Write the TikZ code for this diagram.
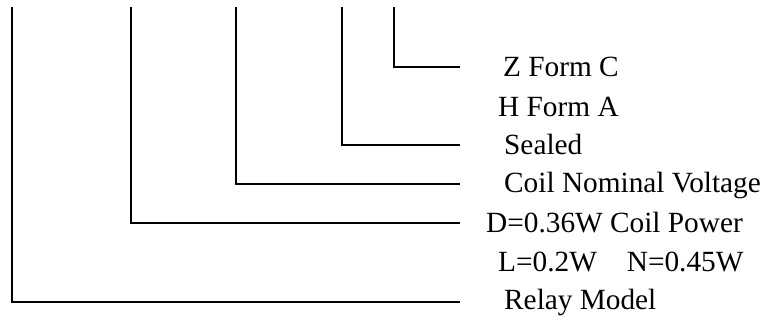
\documentclass[tikz,border=0pt]{standalone}
\usepackage{fontspec}
\setmainfont{Liberation Serif}
\tikzset{
    code/.style={anchor=base west,inner sep=0pt,font=\fontsize{29.3}{34}\selectfont},
    lead/.style={line width=1.3pt}
}
\begin{document}
\begin{tikzpicture}[x=1pt,y=-1pt]
    \useasboundingbox (0,0) rectangle (769,320);
    % Labels %
    \node[code] (zform) at (503,77) {Z Form C};
    \node[code] (hform) at (498,117) {H Form A};
    \node[code] (sealed) at (504,155) {Sealed};
    \node[code] (voltage) at (504,193) {Coil Nominal Voltage};
    \node[code] (power) at (486,233) {D=0.36W Coil Power};
    \node[code] (powerb) at (498,272) {L=0.2W\hspace{30pt}N=0.45W};
    \node[code] (model) at (504,310) {Relay Model};

    % Leaders %
    \coordinate (ztop) at (394,7);  \coordinate (zend) at (460,67);
    \coordinate (stop) at (342,7);  \coordinate (send) at (460,145);
    \coordinate (vtop) at (236,7);  \coordinate (vend) at (460,184);
    \coordinate (ptop) at (131,7);  \coordinate (pend) at (460,223);
    \coordinate (mtop) at (12,7);   \coordinate (mend) at (460,302);
    \draw[lead] (ztop) |- (zend);
    \draw[lead] (stop) |- (send);
    \draw[lead] (vtop) |- (vend);
    \draw[lead] (ptop) |- (pend);
    \draw[lead] (mtop) |- (mend);
\end{tikzpicture}
\end{document}
